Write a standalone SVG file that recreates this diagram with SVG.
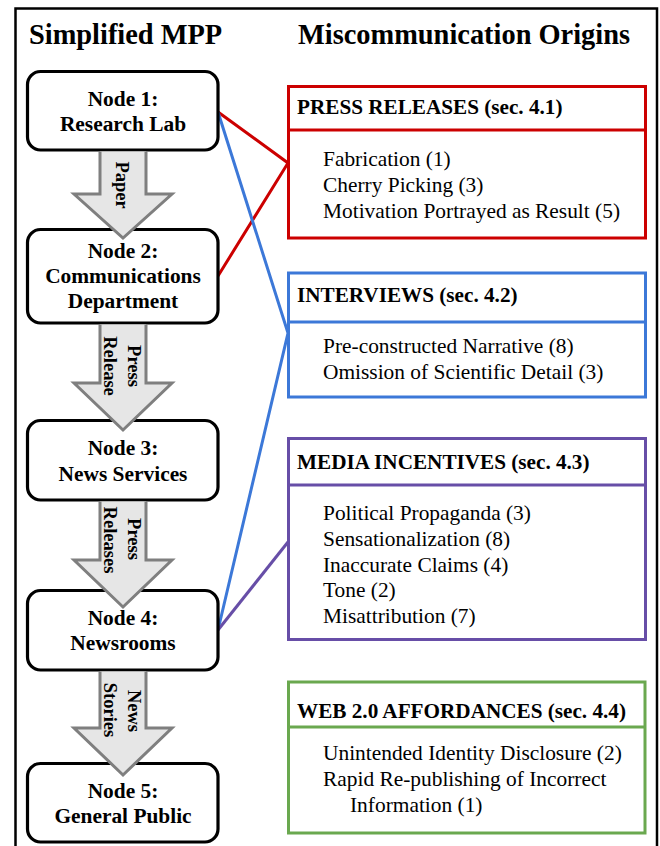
<svg xmlns="http://www.w3.org/2000/svg" width="660" height="846" viewBox="0 0 660 846">
<style>
.title{font-family:"Liberation Serif",serif;font-weight:bold;font-size:28.4px;fill:#000}
.node rect{fill:#fff;stroke:#000;stroke-width:3.2}
.nt{font-family:"Liberation Serif",serif;font-weight:bold;font-size:21.4px;fill:#000;text-anchor:middle}
.arrow{fill:#e6e6e6;stroke:#7f7f7f;stroke-width:3;stroke-linejoin:miter}
.al{font-family:"Liberation Serif",serif;font-weight:bold;font-size:18.5px;fill:#000;text-anchor:middle}
.box{fill:#fff;stroke-width:3}
.hd{font-family:"Liberation Serif",serif;font-weight:bold;font-size:21.2px;fill:#000}
.it{font-family:"Liberation Serif",serif;font-size:21.4px;fill:#000}
.conn{fill:none;stroke-width:3}
</style>
<rect x="0" y="0" width="660" height="846" fill="#fff"/>
<path d="M15.5,850 L15.5,8.5 L657,8.5 L657,850" fill="none" stroke="#000" stroke-width="2.5"/>
<text class="title" x="29" y="44">Simplified MPP</text>
<text class="title" x="298" y="44">Miscommunication Origins</text>

<g id="connectors">
<polyline class="conn" stroke="#cc0000" points="218,112 288,163 218,276"/>
<polyline class="conn" stroke="#3c78d8" points="218,112 288,333 218,630"/>
<polyline class="conn" stroke="#674ea7" points="218,630 288,542"/>
</g>

<g id="node1" class="node"><rect x="27.5" y="71.5" width="190.5" height="78.5" rx="13"/>
<text class="nt" x="123" y="106">Node 1:</text><text class="nt" x="123" y="131">Research Lab</text></g>
<g id="node2" class="node"><rect x="27.5" y="229.5" width="190.5" height="93.5" rx="13"/>
<text class="nt" x="123" y="258">Node 2:</text><text class="nt" x="123" y="283">Communications</text><text class="nt" x="123" y="308">Department</text></g>
<g id="node3" class="node"><rect x="27.5" y="420.5" width="190.5" height="79.5" rx="13"/>
<text class="nt" x="123" y="455">Node 3:</text><text class="nt" x="123" y="481">News Services</text></g>
<g id="node4" class="node"><rect x="27.5" y="590.5" width="190.5" height="79.5" rx="13"/>
<text class="nt" x="123" y="625">Node 4:</text><text class="nt" x="123" y="650">Newsrooms</text></g>
<g id="node5" class="node"><rect x="27.5" y="763.5" width="190.5" height="78.5" rx="13"/>
<text class="nt" x="123" y="798">Node 5:</text><text class="nt" x="123" y="823">General Public</text></g>

<g id="arrow1">
<path class="arrow" d="M100,151.5 L100,194 L74,194 L123,238 L172,194 L146,194 L146,151.5"/>
<text class="al" transform="translate(116,185) rotate(90)">Paper</text>
</g>
<g id="arrow2">
<path class="arrow" d="M100,324.5 L100,383 L74,383 L123,430 L172,383 L146,383 L146,324.5"/>
<text class="al" transform="translate(128,366) rotate(90)">Press</text>
<text class="al" transform="translate(104,366) rotate(90)">Release</text>
</g>
<g id="arrow3">
<path class="arrow" d="M100,501.5 L100,560 L74,560 L123,607 L172,560 L146,560 L146,501.5"/>
<text class="al" transform="translate(128,539) rotate(90)">Press</text>
<text class="al" transform="translate(104,540) rotate(90)">Releases</text>
</g>
<g id="arrow4">
<path class="arrow" d="M100,671.5 L100,728 L74,728 L123,775 L172,728 L146,728 L146,671.5"/>
<text class="al" transform="translate(128,711) rotate(90)">News</text>
<text class="al" transform="translate(104,710) rotate(90)">Stories</text>
</g>

<g id="press-releases">
<rect class="box" x="288.5" y="86.5" width="357" height="151.5" stroke="#cc0000"/>
<line x1="288.5" y1="130" x2="645.5" y2="130" stroke="#cc0000" stroke-width="3"/>
<text class="hd" x="297" y="114">PRESS RELEASES (sec. 4.1)</text>
<text class="it" x="323" y="166">Fabrication (1)</text>
<text class="it" x="323" y="192">Cherry Picking (3)</text>
<text class="it" x="323" y="218">Motivation Portrayed as Result (5)</text>
</g>
<g id="interviews">
<rect class="box" x="288.5" y="273" width="357" height="124" stroke="#3c78d8"/>
<line x1="288.5" y1="322" x2="645.5" y2="322" stroke="#3c78d8" stroke-width="3"/>
<text class="hd" x="297" y="302">INTERVIEWS (sec. 4.2)</text>
<text class="it" x="323" y="353">Pre-constructed Narrative (8)</text>
<text class="it" x="323" y="379">Omission of Scientific Detail (3)</text>
</g>
<g id="media-incentives">
<rect class="box" x="288.5" y="438.5" width="357" height="201" stroke="#674ea7"/>
<line x1="288.5" y1="485" x2="645.5" y2="485" stroke="#674ea7" stroke-width="3"/>
<text class="hd" x="297" y="469">MEDIA INCENTIVES (sec. 4.3)</text>
<text class="it" x="323" y="520">Political Propaganda (3)</text>
<text class="it" x="323" y="546">Sensationalization (8)</text>
<text class="it" x="323" y="572">Inaccurate Claims (4)</text>
<text class="it" x="323" y="597">Tone (2)</text>
<text class="it" x="323" y="623">Misattribution (7)</text>
</g>
<g id="web-affordances">
<rect class="box" x="288.5" y="682" width="356.5" height="151" stroke="#6aa84f"/>
<line x1="288.5" y1="727" x2="645" y2="727" stroke="#6aa84f" stroke-width="3"/>
<text class="hd" x="297" y="718">WEB 2.0 AFFORDANCES (sec. 4.4)</text>
<text class="it" x="323" y="760">Unintended Identity Disclosure (2)</text>
<text class="it" x="323" y="786">Rapid Re-publishing of Incorrect</text>
<text class="it" x="350" y="812">Information (1)</text>
</g>
</svg>
